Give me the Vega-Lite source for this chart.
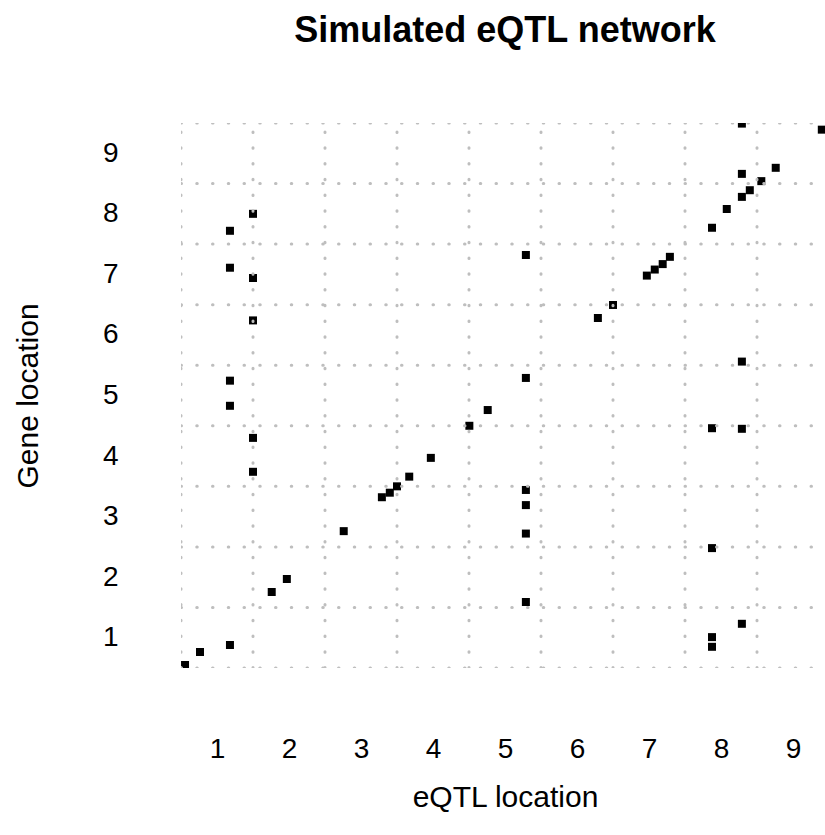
{
  "$schema": "https://vega.github.io/schema/vega-lite/v6.json",
  "autosize": {"type": "none"},
  "padding": {"left": 181, "top": 123, "right": 0, "bottom": 167},
  "width": 644,
  "height": 545,
  "background": "white",
  "config": {"view": {"stroke": null}, "font": "Liberation Sans"},
  "title": {
    "text": "Simulated eQTL network",
    "font": "Liberation Sans",
    "fontSize": 36,
    "fontWeight": "bold",
    "color": "black",
    "anchor": "middle",
    "frame": "group",
    "baseline": "alphabetic",
    "offset": 45,
    "dx": 2
  },
  "datasets": {
    "pts": [
      {"x": 1.5, "y": 8.0}, {"x": 1.18, "y": 7.72}, {"x": 1.18, "y": 7.11}, {"x": 1.5, "y": 6.94},
      {"x": 8.29, "y": 9.49}, {"x": 9.40, "y": 9.39}, {"x": 8.76, "y": 8.76}, {"x": 8.29, "y": 8.66},
      {"x": 8.56, "y": 8.54}, {"x": 8.40, "y": 8.39}, {"x": 8.29, "y": 8.28}, {"x": 8.08, "y": 8.08},
      {"x": 7.875, "y": 7.77}, {"x": 5.29, "y": 7.32}, {"x": 7.29, "y": 7.29}, {"x": 7.19, "y": 7.17},
      {"x": 7.08, "y": 7.08}, {"x": 6.97, "y": 6.98}, {"x": 6.5, "y": 6.495}, {"x": 1.5, "y": 6.24},
      {"x": 1.18, "y": 5.245}, {"x": 1.18, "y": 4.83}, {"x": 1.5, "y": 4.30}, {"x": 1.5, "y": 3.74},
      {"x": 3.67, "y": 3.66}, {"x": 3.5, "y": 3.5}, {"x": 3.40, "y": 3.395}, {"x": 3.29, "y": 3.32},
      {"x": 6.29, "y": 6.28}, {"x": 8.29, "y": 5.56}, {"x": 5.29, "y": 5.29}, {"x": 4.76, "y": 4.76},
      {"x": 4.505, "y": 4.50}, {"x": 7.875, "y": 4.46}, {"x": 8.29, "y": 4.45}, {"x": 3.97, "y": 3.97},
      {"x": 5.29, "y": 3.44}, {"x": 2.76, "y": 2.76}, {"x": 1.97, "y": 1.97}, {"x": 1.76, "y": 1.755},
      {"x": 1.18, "y": 0.88}, {"x": 0.764, "y": 0.764}, {"x": 0.556, "y": 0.55}, {"x": 5.29, "y": 3.19},
      {"x": 5.29, "y": 2.72}, {"x": 7.875, "y": 2.48}, {"x": 5.29, "y": 1.59}, {"x": 8.29, "y": 1.23},
      {"x": 7.875, "y": 1.01}, {"x": 7.875, "y": 0.85}
    ],
    "vlines": [
      {"x": 0.5, "y": 0.5, "y2": 9.5}, {"x": 1.5, "y": 0.5, "y2": 9.5}, {"x": 2.5, "y": 0.5, "y2": 9.5},
      {"x": 3.5, "y": 0.5, "y2": 9.5}, {"x": 4.5, "y": 0.5, "y2": 9.5}, {"x": 5.5, "y": 0.5, "y2": 9.5},
      {"x": 6.5, "y": 0.5, "y2": 9.5}, {"x": 7.5, "y": 0.5, "y2": 9.5}, {"x": 8.5, "y": 0.5, "y2": 9.5}
    ],
    "hlines": [
      {"y": 0.5, "x": 0.5, "x2": 9.5}, {"y": 1.5, "x": 0.5, "x2": 9.5}, {"y": 2.5, "x": 0.5, "x2": 9.5},
      {"y": 3.5, "x": 0.5, "x2": 9.5}, {"y": 4.5, "x": 0.5, "x2": 9.5}, {"y": 5.5, "x": 0.5, "x2": 9.5},
      {"y": 6.5, "x": 0.5, "x2": 9.5}, {"y": 7.5, "x": 0.5, "x2": 9.5}, {"y": 8.5, "x": 0.5, "x2": 9.5},
      {"y": 9.5, "x": 0.5, "x2": 9.5}
    ]
  },
  "encoding": {
    "x": {
      "field": "x", "type": "quantitative",
      "scale": {"domain": [0.5, 9.4444], "nice": false, "zero": false},
      "axis": {
        "title": "eQTL location",
        "values": [1, 2, 3, 4, 5, 6, 7, 8, 9],
        "format": "d",
        "grid": false, "domain": false, "ticks": false, "tickSize": 0,
        "labelFont": "Liberation Sans", "labelFontSize": 28, "labelColor": "black",
        "labelBaseline": "alphabetic", "labelPadding": 89, "labelFlush": false, "labelOverlap": false,
        "titleFont": "Liberation Sans", "titleFontSize": 30, "titleFontWeight": "normal", "titleColor": "black",
        "titleBaseline": "alphabetic", "titleY": 138, "titleX": 324
      }
    },
    "y": {
      "field": "y", "type": "quantitative",
      "scale": {"domain": [0.5, 9.5], "nice": false, "zero": false},
      "axis": {
        "title": "Gene location",
        "values": [1, 2, 3, 4, 5, 6, 7, 8, 9],
        "format": "d",
        "grid": false, "domain": false, "ticks": false, "tickSize": 0,
        "labelFont": "Liberation Sans", "labelFontSize": 28, "labelColor": "black",
        "labelBaseline": "middle", "labelAlign": "right", "labelPadding": 63, "labelFlush": false, "labelOverlap": false,
        "titleFont": "Liberation Sans", "titleFontSize": 30, "titleFontWeight": "normal", "titleColor": "black",
        "titleAngle": 270, "titleBaseline": "alphabetic", "titleX": -144, "titleY": 272.5, "titleAlign": "center"
      }
    }
  },
  "layer": [
    {
      "data": {"name": "pts"},
      "mark": {"type": "point", "shape": "square", "filled": true, "size": 64, "color": "black", "opacity": 1, "strokeWidth": 0, "clip": true}
    },
    {
      "data": {"name": "vlines"},
      "mark": {"type": "rule", "color": "#bebebe", "strokeWidth": 3, "strokeDash": [0.5, 15.25], "strokeCap": "round", "clip": true},
      "encoding": {"y2": {"field": "y2"}}
    },
    {
      "data": {"name": "hlines"},
      "mark": {"type": "rule", "color": "#bebebe", "strokeWidth": 3, "strokeDash": [0.5, 15.25], "strokeCap": "round", "clip": true},
      "encoding": {"x2": {"field": "x2"}}
    }
  ]
}
